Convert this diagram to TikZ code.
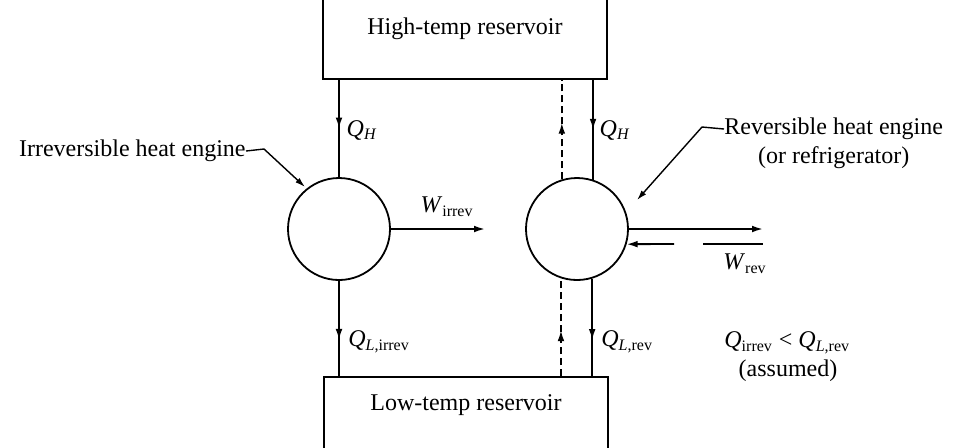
\documentclass[tikz,border=0pt]{standalone}
\usepackage{fontspec}
\setmainfont{Liberation Serif}
\usetikzlibrary{arrows.meta,decorations.markings}
\newcommand\qqsub[2]{\textit{#1}\textsubscript{#2}}
\begin{document}
\begin{tikzpicture}[x=0.5pt,y=-0.5pt,
  font=\fontsize{12}{14}\selectfont,
  conn/.style={line width=0.9pt},
  tipped/.style={-{Latex[length=5.5pt,width=3.4pt]}},
  dashline/.style={dash pattern=on 3.5pt off 2pt},
  midarrow/.style={postaction={decorate},decoration={markings,mark=at position #1 with {\arrow{Latex[length=5.5pt,width=3.4pt]}}}},
  leader/.style={line width=0.7pt,-{Latex[length=5pt,width=3pt]}},
  res/.style={draw,line width=0.9pt,minimum width=142pt,minimum height=50pt,inner sep=0},
  eng/.style={draw,circle,line width=0.9pt,minimum size=51pt,inner sep=0},
  lbl/.style={inner sep=0}]
\clip (0,0) rectangle (957,447);
\fill[white] (0,0) rectangle (957,447);
% reservoirs
\node[res] (hot) at (465,29) {};
\node[lbl] (hottext) at (465,29) {High-temp reservoir};
\node[res] (cold) at (466,427) {};
\node[lbl] (coldtext) at (466,405) {Low-temp reservoir};
% engines
\node[eng] (eng1) at (339,229) {};
\node[eng] (eng2) at (577,229) {};
% heat flows
\draw[conn,midarrow=0.5] (hot.south -| eng1.north) -- (eng1.north);
\draw[conn,midarrow=0.62] (eng1.south) -- (eng1.south |- cold.north);
\draw[conn,midarrow=0.5] (hot.south -| eng2.72.5) -- (eng2.72.5);
\draw[conn,midarrow=0.63] (eng2.287.5) -- (eng2.287.5 |- cold.north);
\draw[conn,dashline,midarrow=0.57] (eng2.107.5) -- (eng2.107.5 |- hot.south);
\draw[conn,dashline,midarrow=0.47] (eng2.252.5 |- cold.north) -- (eng2.252.5);
% work
\coordinate (wi) at (485,229);
\draw[conn,tipped] (eng1.east) -- (wi);
\coordinate (wr1) at (763,229);
\draw[conn,tipped] (eng2.east) -- (wr1);
\coordinate (wr2) at (674,244);
\draw[conn,tipped] (wr2) -- (eng2.-17.5);
\coordinate (wr3) at (703,244);
\coordinate (wr4) at (763,244);
\draw[conn] (wr3) -- (wr4);
% labels
\node[lbl] (qh1) at (362,130) {\qqsub{Q}{\textit{H}}};
\node[lbl] (qh2) at (615,130) {\qqsub{Q}{\textit{H}}};
\node[lbl,anchor=west] (ql1) at (348,342) {\qqsub{Q}{\textit{L},irrev}};
\node[lbl,anchor=west] (ql2) at (601,342) {\qqsub{Q}{\textit{L},rev}};
\node[lbl] (wirr) at (447,207) {\qqsub{W}{irrev}};
\node[lbl] (wrev) at (745,264) {\qqsub{W}{rev}};
\node[lbl,anchor=west] (cmp) at (724,343) {\qqsub{Q}{irrev} < \qqsub{Q}{\textit{L},rev}};
\node[lbl] (assumed) at (788,371) {(assumed)};
% engine captions
\node[lbl,anchor=east] (irr) at (246,151) {Irreversible heat engine};
\coordinate (irrbend) at (264,149);
\coordinate (irrtip) at (305,187);
\draw[leader] (irr.east) -- (irrbend) -- (irrtip);
\node[lbl,anchor=west] (rev1) at (724,129) {Reversible heat engine};
\node[lbl,anchor=north] (rev2) at ([yshift=-3pt]rev1.south) {(or refrigerator)};
\coordinate (revbend) at (702,127);
\coordinate (revtip) at (637,200);
\draw[leader] (rev1.west) -- (revbend) -- (revtip);
\end{tikzpicture}
\end{document}
